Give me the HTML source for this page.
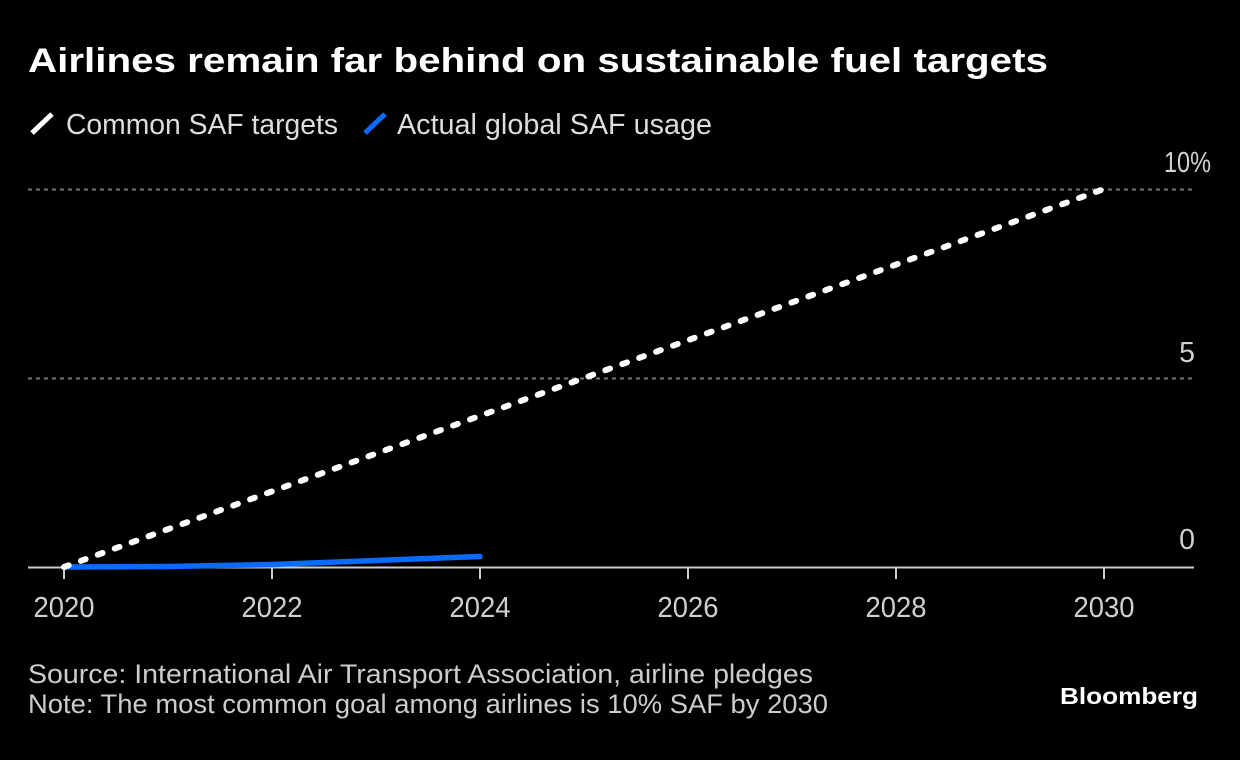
<!DOCTYPE html>
<html><head><meta charset="utf-8"><style>
html,body{margin:0;padding:0;background:#000;}
svg{display:block;}
text{font-family:"Liberation Sans Narrow","Liberation Sans",sans-serif;}
</style></head><body>
<svg width="1240" height="760" viewBox="0 0 1240 760" xmlns="http://www.w3.org/2000/svg">
<rect width="1240" height="760" fill="#000"/>
<text x="28" y="72" font-size="34" font-weight="bold" fill="#fff" textLength="1020" lengthAdjust="spacingAndGlyphs" style="font-family:'Liberation Sans',sans-serif">Airlines remain far behind on sustainable fuel targets</text>
<line x1="32" y1="133" x2="52" y2="114" stroke="#fff" stroke-width="5"/>
<text x="66" y="134" font-size="29" fill="#ddd" textLength="272" lengthAdjust="spacingAndGlyphs">Common SAF targets</text>
<line x1="365" y1="133" x2="385" y2="114" stroke="#0a6cff" stroke-width="5"/>
<text x="397" y="134" font-size="29" fill="#ddd" textLength="315" lengthAdjust="spacingAndGlyphs">Actual global SAF usage</text>
<line x1="28" y1="189.5" x2="1194" y2="189.5" stroke="#777" stroke-width="2" stroke-dasharray="4 4"/>
<line x1="28" y1="378.5" x2="1194" y2="378.5" stroke="#777" stroke-width="2" stroke-dasharray="4 4"/>
<text x="1211" y="172" font-size="28.5" fill="#d0d0d0" text-anchor="end" textLength="47" lengthAdjust="spacingAndGlyphs">10%</text>
<text x="1195" y="362" font-size="28.5" fill="#d0d0d0" text-anchor="end">5</text>
<text x="1195" y="549" font-size="28.5" fill="#d0d0d0" text-anchor="end">0</text>
<line x1="28" y1="567.5" x2="1194" y2="567.5" stroke="#ccc" stroke-width="2"/>
<g stroke="#ccc" stroke-width="2">
<line x1="64" y1="567" x2="64" y2="579"/>
<line x1="272" y1="567" x2="272" y2="579"/>
<line x1="480" y1="567" x2="480" y2="579"/>
<line x1="688" y1="567" x2="688" y2="579"/>
<line x1="896" y1="567" x2="896" y2="579"/>
<line x1="1104" y1="567" x2="1104" y2="579"/>
</g>
<g font-size="28.5" fill="#d0d0d0" text-anchor="middle">
<text x="64" y="617" textLength="61" lengthAdjust="spacingAndGlyphs">2020</text>
<text x="272" y="617" textLength="61" lengthAdjust="spacingAndGlyphs">2022</text>
<text x="480" y="617" textLength="61" lengthAdjust="spacingAndGlyphs">2024</text>
<text x="688" y="617" textLength="61" lengthAdjust="spacingAndGlyphs">2026</text>
<text x="896" y="617" textLength="61" lengthAdjust="spacingAndGlyphs">2028</text>
<text x="1104" y="617" textLength="61" lengthAdjust="spacingAndGlyphs">2030</text>
</g>
<polyline points="64,567 168,566.5 272,564.5 376,560.5 480,556.5" fill="none" stroke="#0a6cff" stroke-width="5.5" stroke-linecap="round" stroke-linejoin="round"/>
<line x1="64" y1="567" x2="1104" y2="189" stroke="#fff" stroke-width="6" stroke-dasharray="5 13" stroke-linecap="round"/>
<text x="28" y="683" font-size="27" fill="#ccc" textLength="785" lengthAdjust="spacingAndGlyphs">Source: International Air Transport Association, airline pledges</text>
<text x="28" y="713" font-size="27" fill="#ccc" textLength="800" lengthAdjust="spacingAndGlyphs">Note: The most common goal among airlines is 10% SAF by 2030</text>
<text x="1060" y="704" font-size="23.5" font-weight="bold" fill="#fff" textLength="138" lengthAdjust="spacingAndGlyphs" style="font-family:'Liberation Sans',sans-serif">Bloomberg</text>
</svg>
</body></html>
